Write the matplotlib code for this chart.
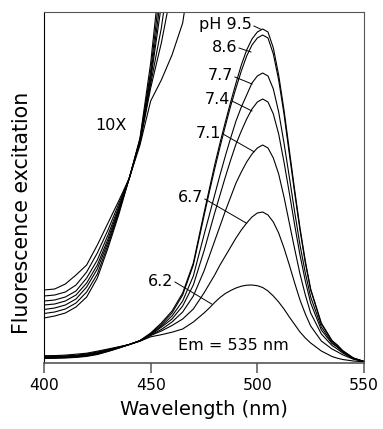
import numpy as np
import matplotlib
matplotlib.use("Agg")
from matplotlib import pyplot as plt

plt.rcParams['font.family'] = ['DejaVu Sans']

# excitation spectra, Em = 535 nm (arbitrary units)
wavelength = [400, 405, 410, 415, 420, 425, 430, 435, 440, 445, 450, 455, 460, 465, 470,
              475, 477.5, 480, 482.5, 485, 487.5, 490, 492.5, 495, 497.5, 500, 502.5,
              505, 507.5, 510, 512.5, 515, 517.5, 520, 522.5, 525,
              530, 535, 537.5, 540, 545, 550]
ph_labels = ['pH 9.5', '8.6', '7.7', '7.4', '7.1', '6.7', '6.2']
ph95 = [4.5, 4.7, 5.0, 5.6, 6.6, 8.5, 11.5, 14.8, 18.5, 22.5, 30.0, 40.0, 52, 70, 100,
        150, 174, 198, 220, 241, 261, 280, 298, 313, 324, 331, 334,
        331, 315, 288, 253, 213, 173, 135, 102, 74,
        40, 22.5, 18, 12.5, 5, 1.5]
ph86 = [4.95, 5.1, 5.4, 6.0, 7.1, 8.9, 11.8, 15.0, 18.5, 22.4, 29.2, 38.5, 50, 68, 98,
        147, 171, 194, 216, 237, 257, 275, 292, 307, 318, 325, 328,
        325, 309, 283, 249, 209, 170, 133, 100, 73,
        39, 22, 17.5, 12, 5, 1.5]
ph77 = [5.35, 5.5, 5.8, 6.4, 7.6, 9.4, 12.1, 15.2, 18.5, 22.3, 28.7, 37.0, 47, 62, 87,
        128, 148, 168, 188, 207, 225, 242, 256, 268, 280, 287, 290,
        287, 274, 251, 220, 186, 151, 118, 90, 66,
        36, 20.5, 16.5, 11.5, 4.8, 1.5]
ph74 = [5.8, 5.9, 6.2, 6.8, 8.0, 9.8, 12.4, 15.4, 18.5, 22.2, 28.3, 35.8, 44, 57, 78,
        112, 131, 150, 168, 186, 203, 219, 232, 244, 254, 261, 264,
        261, 249, 229, 201, 170, 138, 108, 82, 60,
        33, 19.5, 15.8, 11, 4.6, 1.5]
ph71 = [6.2, 6.3, 6.6, 7.2, 8.5, 10.3, 12.8, 15.6, 18.5, 22.1, 27.9, 33.5, 41, 51, 67,
        92, 107, 122, 137, 152, 166, 180, 191, 201, 209, 215, 218,
        215, 205, 189, 166, 140, 114, 89, 68, 50,
        29, 17.5, 14, 10, 4.3, 1.5]
ph67 = [6.7, 6.8, 7.1, 7.8, 9.1, 11.0, 13.3, 15.9, 18.5, 22.0, 27.5, 32.0, 37.5, 44, 54,
        70, 79, 88, 98, 107, 116, 125, 133, 140, 146, 150, 151,
        148, 141, 130, 115, 98, 80, 63, 49, 37,
        22, 14, 11.2, 8.2, 3.8, 1.5]
ph62 = [7.3, 7.4, 7.9, 8.8, 9.8, 11.8, 14.0, 16.2, 18.5, 21.8, 26.2, 28.3, 30.8, 34, 41,
        50, 55, 60.5, 65.5, 69.5, 72.5, 75, 76.8, 77.8, 78, 77.3, 75.5,
        72, 67, 61, 54, 46, 38.5, 31, 25, 20,
        12, 6.5, 4.8, 3.5, 2, 1.2]
spectra = [ph95, ph86, ph77, ph74, ph71, ph67, ph62]

# label text position (right end) and leader line end on the curve
label_xy = [(497.5, 338), (490.5, 316), (488.6, 287), (487.2, 263), (483.0, 230), (474.5, 165), (460.5, 82)]
leader_end = [(501.7, 333.7), (497.0, 311), (497.5, 279), (497.5, 252), (498.4, 211.3), (495.0, 139.7), (478.6, 59)]

fig = plt.figure(figsize=(3.83, 4.29), dpi=100)
ax = fig.add_axes([44/383, 1-363/429, 320/383, 351/429])

w = np.array(wavelength)
zoom_part = w <= 470
for s in spectra:
    s = np.array(s)
    ax.plot(w, s, color='black', lw=0.8)
    # 10X trace
    ax.plot(w[zoom_part], 10*s[zoom_part], color='black', lw=0.8)

for txt, (tx, ty), (ex, ey) in zip(ph_labels, label_xy, leader_end):
    ax.text(tx, ty, txt, ha='right', va='center', fontsize=11.5)
    ax.plot([tx + 0.9, ex], [ty - 1, ey], color='black', lw=0.7)

ax.text(431.6, 237, '10X', ha='center', va='center', fontsize=11.5)
ax.text(488.6, 18, 'Em = 535 nm', ha='center', va='center', fontsize=11.5)

ax.set_xlim(400, 550)
ax.set_ylim(0, 351)
ax.set_xticks([400, 450, 500, 550])
ax.set_yticks([])
ax.tick_params(axis='x', direction='out', length=7, width=1.1, color='#555555',
               labelsize=11.3, pad=4)
for side in ['right', 'bottom', 'top']:
    ax.spines[side].set_color('#555555')
ax.spines['bottom'].set_linewidth(1.2)
ax.spines['left'].set_linewidth(0.8)

ax.set_xlabel('Wavelength (nm)', fontsize=14, labelpad=5)
ax.set_ylabel('Fluorescence excitation', fontsize=14.8)
ax.yaxis.set_label_coords(-0.039, 0.427)

fig.savefig('out.png', dpi=100)
